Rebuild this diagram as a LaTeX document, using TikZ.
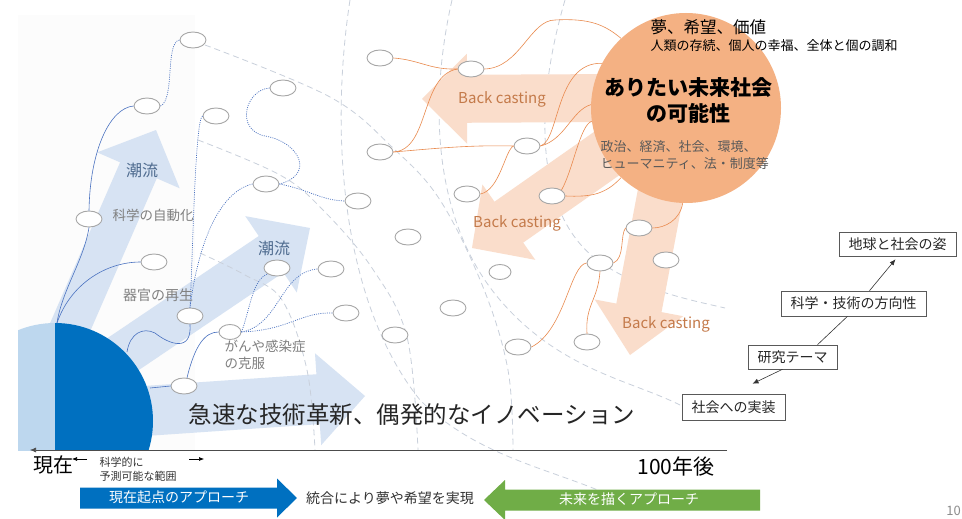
\documentclass[tikz,border=0pt]{standalone}
\usepackage{fontspec}
\setmainfont{Noto Sans CJK JP}
\usetikzlibrary{calc,shapes.geometric,arrows.meta}
\definecolor{presentblue}{HTML}{0070C0}
\definecolor{halfblue}{HTML}{BDD7EE}
\definecolor{flowblue}{HTML}{D7E3F3}
\definecolor{futureorange}{HTML}{F4B183}
\definecolor{backpeach}{HTML}{FADDCB}
\definecolor{approachgreen}{HTML}{70AD47}
\definecolor{lineblue}{HTML}{4A72C0}
\definecolor{lineorange}{HTML}{E98A4E}
\definecolor{ellgray}{HTML}{A6A6A6}
\definecolor{arcgray}{HTML}{C9D0DB}
\definecolor{backtext}{HTML}{C47A4A}
\definecolor{flowtext}{HTML}{4D6A8E}
\definecolor{paneltint}{HTML}{FCFCFC}
\newcommand\fs[1]{\fontsize{#1}{#1}\selectfont}
\newcommand\fatarrow[6]{%
  \coordinate (fahb) at ($(#2)!#5!(#1)$);
  \fill[#6] ($(#1)!#3!90:(#2)$) -- ($(fahb)!#3!90:(#2)$) -- ($(fahb)!#4!90:(#2)$)
     -- (#2) -- ($(fahb)!#4!-90:(#2)$) -- ($(fahb)!#3!-90:(#2)$) -- ($(#1)!#3!-90:(#2)$) -- cycle;}
\tikzset{
  ell/.style={ellipse, draw=ellgray, fill=white, line width=0.9pt, minimum width=26pt, minimum height=16pt, inner sep=0pt},
  sell/.style={ell, minimum width=22pt, minimum height=15pt},
  bl/.style={draw=lineblue, line width=0.6pt},
  bld/.style={draw=lineblue, line width=0.7pt, dash pattern=on 1pt off 1.2pt},
  ol/.style={draw=lineorange, line width=0.6pt},
  arcd/.style={draw=arcgray, line width=0.8pt, dash pattern=on 6pt off 4pt},
  infobox/.style={draw=black!65, fill=white, line width=0.6pt, inner sep=0pt, minimum height=24pt, font=\fs{14}, text=black!85},
  flowlbl/.style={text=flowtext, font=\fs{16}},
  graylbl/.style={text=black!50, font=\fs{13.5}},
  backlbl/.style={text=backtext, font=\fs{15}},
}
\begin{document}
\begin{tikzpicture}[x=1pt,y=-1pt]
\useasboundingbox (0,0) rectangle (962,519);
\fill[white] (0,0) rectangle (962,519);
\fill[paneltint] (18,15) rectangle (195,450);

% light blue trend arrows
\coordinate (f1t) at (48,378); \coordinate (f1h) at (156,130);
\fatarrow{f1t}{f1h}{20pt}{45pt}{44pt}{fill=flowblue}
\coordinate (f2t) at (61,396); \coordinate (f2h) at (310,228);
\fatarrow{f2t}{f2h}{22pt}{46pt}{47pt}{fill=flowblue}
\coordinate (f3t) at (130,412); \coordinate (f3h) at (365,396);
\fatarrow{f3t}{f3h}{25pt}{46pt}{47pt}{fill=flowblue}

% dashed time arcs: from the present
\draw[arcd] plot[smooth, tension=0.6] coordinates {(205,45) (330,97) (393,148) (440,200) (483,287) (508,370) (513,450)};
\draw[arcd] plot[smooth, tension=0.6] coordinates {(198,140) (280,175) (323,210) (372,268) (407,337) (418,450)};
\draw[arcd] plot[smooth, tension=0.6] coordinates {(200,253) (245,275) (282,300) (307,370) (315,450)};
% dashed arcs around the future
\draw[arcd] (350,0) .. controls (330,130) and (340,300) .. (420,400) .. controls (480,460) and (560,470) .. (620,500);
\draw[arcd] (452,0) .. controls (425,120) and (440,230) .. (500,300) .. controls (560,370) and (630,380) .. (680,405);
\draw[arcd] (565,0) .. controls (530,120) and (540,220) .. (600,262) .. controls (640,290) and (690,300) .. (725,308);

% back casting arrows
\coordinate (b1t) at (620,98); \coordinate (b1h) at (422,99);
\fatarrow{b1t}{b1h}{24pt}{45pt}{45pt}{fill=backpeach}
\coordinate (b2t) at (636,133); \coordinate (b2h) at (472,248);
\fatarrow{b2t}{b2h}{25pt}{46pt}{45pt}{fill=backpeach}
\coordinate (b3t) at (665,170); \coordinate (b3h) at (630,355);
\fatarrow{b3t}{b3h}{23pt}{45pt}{48pt}{fill=backpeach}

% present (half disc)
\begin{scope}
  \clip (18,0) rectangle (55,450);
  \fill[halfblue] (55,421) circle[radius=98pt];
\end{scope}
\begin{scope}
  \clip (55,0) rectangle (300,450);
  \fill[presentblue] (55,421) circle[radius=98pt];
\end{scope}
\coordinate (p1) at (57,323);
\coordinate (p2) at (127,352);
\coordinate (p3) at (150,388);

% future circle
\node[circle, fill=futureorange, minimum size=190pt, inner sep=0pt] (circ) at (686,108) {};

% ellipses
\node[ell] (eA) at (193,40) {};
\node[ell] (eB) at (147,106) {};
\node[ell] (eC) at (89,219) {};
\node[ell] (eD) at (154,262) {};
\node[ell] (eE) at (190,316) {};
\node[ell] (eF) at (184,386) {};
\node[sell] (eG) at (230,332) {};
\node[ell] (eH) at (266,184) {};
\node[ell] (eI) at (283,88) {};
\node[ell] (eJ) at (216,116) {};
\node[ell] (eK) at (358,201) {};
\node[ell] (eL) at (277,268) {};
\node[ell] (eM) at (331,269) {};
\node[ell] (eN) at (346,313) {};
\node[ell] (eO) at (395,335) {};
\node[ell] (eP) at (408,237) {};
\node[ell] (eQ) at (380,58) {};
\node[ell] (eR) at (380,152) {};
\node[ell] (eS) at (471,69) {};
\node[ell] (eT) at (527,146) {};
\node[ell] (eU) at (467,194) {};
\node[ell] (eV) at (552,196) {};
\node[ell] (eW) at (639,228) {};
\node[sell] (eX) at (500,272) {};
\node[ell] (eY) at (600,263) {};
\node[ell] (eZ) at (666,260) {};
\node[ell] (eAA) at (453,308) {};
\node[ell] (eAB) at (518,347) {};
\node[ell] (eAC) at (587,342) {};

% blue solid connectors
\draw[bl] (p1) .. controls (62,290) and (84,260) .. (eC.south);
\draw[bl] (eC.north) .. controls (90,150) and (110,108) .. (eB.west);
\draw[bl] (p1) .. controls (70,285) and (105,262) .. (eD.west);
\draw[bl] (p2) .. controls (130,333) and (143,327) .. (155,333) .. controls (170,345) and (192,352) .. (eE.south);
\draw[bl] (p3) -- (eF.west);
\draw[bl] (eF.70) .. controls (195,345) and (205,332) .. (eG.west);
% blue dotted connectors
\draw[bld] (eB.east) .. controls (175,100) and (165,42) .. (eA.west);
\draw[bld] (eJ.west) .. controls (195,120) and (193,250) .. (eE.north);
\draw[bld] (eH.west) .. controls (225,190) and (200,230) .. (eE.north);
\draw[bld] (eI.west) .. controls (245,90) and (235,130) .. (265,136) .. controls (300,142) and (315,175) .. (eH.east);
\draw[bld] (eH.east) .. controls (310,190) and (320,200) .. (eK.west);
\draw[bld] (eG.east) .. controls (250,310) and (252,280) .. (eL.south west);
\draw[bld] (eG.east) .. controls (280,325) and (280,272) .. (eM.west);
\draw[bld] (eG.east) .. controls (290,330) and (300,312) .. (eN.west);
% orange connectors
\draw[ol] (eQ.east) .. controls (420,60) and (430,70) .. (eS.west);
\draw[ol] (eR.east) .. controls (430,150) and (420,75) .. (eS.west);
\draw[ol] (eR.east) .. controls (440,148) and (470,145) .. (eT.west);
\draw[ol] (eT.west) .. controls (505,150) and (500,190) .. (eU.east);
\draw[ol] (eS.east) .. controls (520,68) and (530,20) .. (555,20) .. controls (590,18) and (605,25) .. (circ.133);
\draw[ol] (eT.east) .. controls (560,140) and (555,62) .. (circ.152);
\draw[ol] (eT.east) .. controls (565,140) and (572,110) .. (circ.178);
\draw[ol] (eV.east) .. controls (590,197) and (605,195) .. (circ.227);
\draw[ol] (eV.north east) .. controls (573,170) and (580,125) .. (circ.188);
\draw[ol] (circ.268) .. controls (680,220) and (665,228) .. (eW.east);
\draw[ol] (eW.west) .. controls (620,235) and (625,258) .. (eY.east);
\draw[ol] (eY.west) .. controls (570,265) and (565,330) .. (eAB.east);
\draw[ol] (eY.south) .. controls (598,300) and (585,305) .. (eAC.north);

% texts in circle
\node[font=\fs{16.5}, anchor=west] (tyume) at (647,27) {夢、希望、価値};
\node[font=\fs{13}, anchor=west] (tjinrui) at (647,46) {人類の存続、個人の幸福、全体と個の調和};
\node[font=\bfseries\fs{21}] (tari) at (688,88) {ありたい未来社会};
\node[font=\bfseries\fs{21}] (tkano) at (688,113) {の可能性};
\node[font=\fs{13}, text=black!65, anchor=west] (tsei) at (597,147) {政治、経済、社会、環境、};
\node[font=\fs{13}, text=black!65, anchor=west] (thum) at (597,164) {ヒューマニティ、法・制度等};

\node[backlbl] (tb1) at (502,99) {Back casting};
\node[backlbl] (tb2) at (517,223) {Back casting};
\node[backlbl] (tb3) at (666,324) {Back casting};

\node[flowlbl] (tf1) at (142,170) {潮流};
\node[flowlbl] (tf2) at (274,248) {潮流};
\node[graylbl] (tk1) at (153,215) {科学の自動化};
\node[graylbl, font=\fs{14}] (tk2) at (158,295) {器官の再生};
\node[graylbl, align=left, anchor=north west, font=\fontsize{13.5}{17}\selectfont] (tk3) at (221,337) {がんや感染症\\の克服};
\node[font=\fs{23.5}, text=black!85] (tkyu) at (412,415) {急速な技術革新、偶発的なイノベーション};

% baseline and time labels
\coordinate (basel) at (30,450); \coordinate (baser) at (727,450);
\draw[black!70, line width=0.6pt, -{Latex[length=6pt,width=5pt]}] (baser) -- (basel);
\node[font=\fs{20}] (tnow) at (53,465) {現在};
\node[font=\fs{21}] (t100) at (676,467) {100年後};
\coordinate (sa1) at (87,459); \coordinate (sa2) at (72,459);
\coordinate (sa3) at (189,459); \coordinate (sa4) at (204,459);
\draw[black, line width=0.6pt, -{Latex[length=5pt,width=4pt]}] (sa1) -- (sa2);
\draw[black, line width=0.6pt, -{Latex[length=5pt,width=4pt]}] (sa3) -- (sa4);
\node[font=\fontsize{11}{14}\selectfont, align=left, anchor=north west, text=black!80] (tsci) at (96,454) {科学的に\\予測可能な範囲};

% approach arrows
\coordinate (ba1) at (80,498); \coordinate (ba2) at (297,498);
\fatarrow{ba1}{ba2}{10.5pt}{19.5pt}{20pt}{fill=presentblue}
\node[font=\fs{14}, text=white] (tba) at (179,497) {現在起点のアプローチ};
\node[font=\fs{14}, text=black!80] (ttogo) at (390,498) {統合により夢や希望を実現};
\coordinate (ga1) at (760,500); \coordinate (ga2) at (484,500);
\fatarrow{ga1}{ga2}{10.5pt}{20pt}{21pt}{fill=approachgreen}
\node[font=\fs{14}, text=white] (tga) at (629,499) {未来を描くアプローチ};
\node[font=\fs{13}, text=black!45, anchor=east, inner sep=1pt] (tpage) at (962,511) {10};

% right boxes
\node[infobox, minimum width=117pt] (chikyu) at (897.5,244) {地球と社会の姿};
\node[infobox, minimum width=145pt, minimum height=25pt] (kagaku) at (853.5,303.5) {科学・技術の方向性};
\node[infobox, minimum width=89pt] (kenkyu) at (792.5,357) {研究テーマ};
\node[infobox, minimum width=103pt, minimum height=26pt] (shakai) at (733.5,407) {社会への実装};
\draw[black!80, line width=0.6pt, -{Latex[length=6pt,width=5pt]}] ($(kenkyu.south)+(-10,0)$) -- ($(shakai.north)+(19,-10)$);
\draw[black!80, line width=0.6pt] ($(kenkyu.north)+(25,0)$) -- ($(kagaku.south)+(-6,0)$);
\draw[black!80, line width=0.6pt, -{Latex[length=6pt,width=5pt]}] ($(kagaku.north)+(16,0)$) -- ($(chikyu.south)+(-2,3)$);
\end{tikzpicture}
\end{document}
